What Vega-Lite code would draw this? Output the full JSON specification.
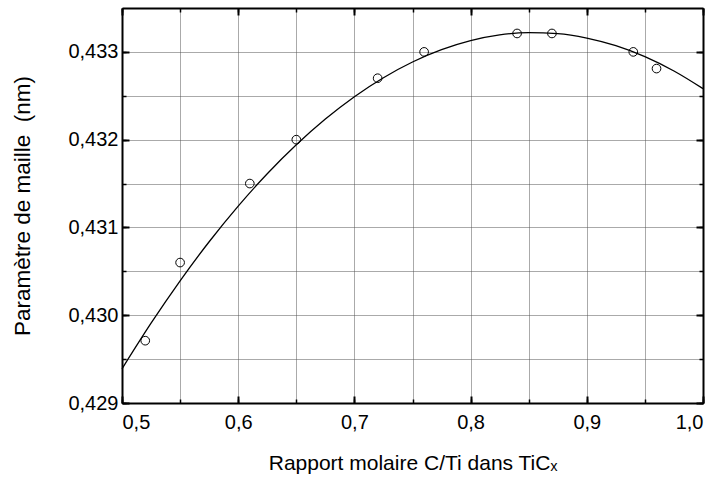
{
  "$schema": "https://vega.github.io/schema/vega-lite/v6.json",
  "width": 581,
  "height": 395,
  "autosize": {"type": "none"},
  "padding": {"left": 122, "top": 8, "right": 17, "bottom": 79},
  "background": "white",
  "config": {
    "view": {"stroke": null},
    "font": "Liberation Sans",
    "axis": {
      "labelFont": "Liberation Sans",
      "titleFont": "Liberation Sans",
      "labelColor": "black",
      "titleColor": "black",
      "labelFontSize": 20,
      "titleFontSize": 20,
      "titleFontWeight": "normal",
      "domainColor": "black",
      "tickColor": "black",
      "domainWidth": 2,
      "tickWidth": 2
    }
  },
  "datasets": {
    "pts": [
      {"x": 0.52, "y": 0.42971},
      {"x": 0.55, "y": 0.43060},
      {"x": 0.61, "y": 0.43150},
      {"x": 0.65, "y": 0.43200},
      {"x": 0.72, "y": 0.43270},
      {"x": 0.76, "y": 0.43300},
      {"x": 0.84, "y": 0.43321},
      {"x": 0.87, "y": 0.43321},
      {"x": 0.94, "y": 0.43300},
      {"x": 0.96, "y": 0.43281}
    ],
    "curve": [
      {"x": 0.500, "y": 0.429389},
      {"x": 0.525, "y": 0.429909},
      {"x": 0.550, "y": 0.430392},
      {"x": 0.575, "y": 0.430837},
      {"x": 0.600, "y": 0.431243},
      {"x": 0.625, "y": 0.431612},
      {"x": 0.650, "y": 0.431942},
      {"x": 0.675, "y": 0.432235},
      {"x": 0.700, "y": 0.432490},
      {"x": 0.725, "y": 0.432706},
      {"x": 0.750, "y": 0.432885},
      {"x": 0.775, "y": 0.433025},
      {"x": 0.800, "y": 0.433128},
      {"x": 0.825, "y": 0.433193},
      {"x": 0.850, "y": 0.433219},
      {"x": 0.875, "y": 0.433208},
      {"x": 0.900, "y": 0.433158},
      {"x": 0.925, "y": 0.433071},
      {"x": 0.950, "y": 0.432946},
      {"x": 0.975, "y": 0.432782},
      {"x": 1.000, "y": 0.432581}
    ]
  },
  "resolve": {"axis": {"x": "independent", "y": "independent"}},
  "layer": [
    {
      "data": {"name": "curve"},
      "mark": {"type": "line", "opacity": 0},
      "encoding": {
        "x": {"field": "x", "type": "quantitative", "scale": {"domain": [0.5, 1.0], "zero": false, "nice": false},
          "axis": {"orient": "bottom", "values": [0.5,0.55,0.6,0.65,0.7,0.75,0.8,0.85,0.9,0.95,1.0], "labels": false, "title": null, "domain": false, "tickSize": -4, "tickWidth": 1.5, "grid": true, "gridColor": "#555", "gridDash": [1, 1], "gridWidth": 1}},
        "y": {"field": "y", "type": "quantitative", "scale": {"domain": [0.429, 0.4335], "zero": false, "nice": false},
          "axis": {"orient": "left", "values": [0.429,0.4295,0.43,0.4305,0.431,0.4315,0.432,0.4325,0.433], "labels": false, "title": null, "domain": false, "tickSize": -4, "tickWidth": 1.5, "grid": true, "gridColor": "#555", "gridDash": [1, 1], "gridWidth": 1}}
      }
    },
    {
      "data": {"name": "curve"},
      "mark": {"type": "line", "opacity": 0},
      "encoding": {
        "x": {"field": "x", "type": "quantitative",
          "axis": {"orient": "top", "values": [0.5,0.55,0.6,0.65,0.7,0.75,0.8,0.85,0.9,0.95,1.0], "labels": false, "title": null, "domain": false, "tickSize": -4, "tickWidth": 1.5, "grid": false}},
        "y": {"field": "y", "type": "quantitative",
          "axis": {"orient": "right", "values": [0.429,0.4295,0.43,0.4305,0.431,0.4315,0.432,0.4325,0.433], "labels": false, "title": null, "domain": false, "tickSize": -4, "tickWidth": 1.5, "grid": false}}
      }
    },
    {
      "data": {"name": "curve"},
      "mark": {"type": "line", "color": "black", "strokeWidth": 1.3, "interpolate": "monotone"},
      "encoding": {
        "x": {"field": "x", "type": "quantitative",
          "axis": {"orient": "top", "values": [0.5,0.6,0.7,0.8,0.9,1.0], "labels": false, "title": null, "tickSize": -7, "grid": false}},
        "y": {"field": "y", "type": "quantitative",
          "axis": {"orient": "right", "values": [0.429,0.43,0.431,0.432,0.433], "labels": false, "title": null, "tickSize": -7, "grid": false}}
      }
    },
    {
      "data": {"name": "pts"},
      "mark": {"type": "point", "shape": "circle", "filled": false, "color": "black", "strokeWidth": 1, "size": 75, "opacity": 1},
      "encoding": {
        "x": {"field": "x", "type": "quantitative",
          "axis": {"orient": "bottom", "values": [0.5,0.6,0.7,0.8,0.9,1.0], "labelExpr": "replace(format(datum.value, '.1f'), '.', ',')", "tickSize": -7, "labelPadding": 16, "grid": false, "title": "Rapport molaire C/Ti dans TiCₓ", "titleFontSize": 21, "titlePadding": 20}},
        "y": {"field": "y", "type": "quantitative",
          "axis": {"orient": "left", "values": [0.429,0.43,0.431,0.432,0.433], "labelExpr": "replace(format(datum.value, '.3f'), '.', ',')", "tickSize": -7, "labelPadding": 11, "grid": false, "title": "Paramètre de maille\u00a0 (nm)", "titleFontSize": 22.5, "titlePadding": 33}}
      }
    }
  ]
}
